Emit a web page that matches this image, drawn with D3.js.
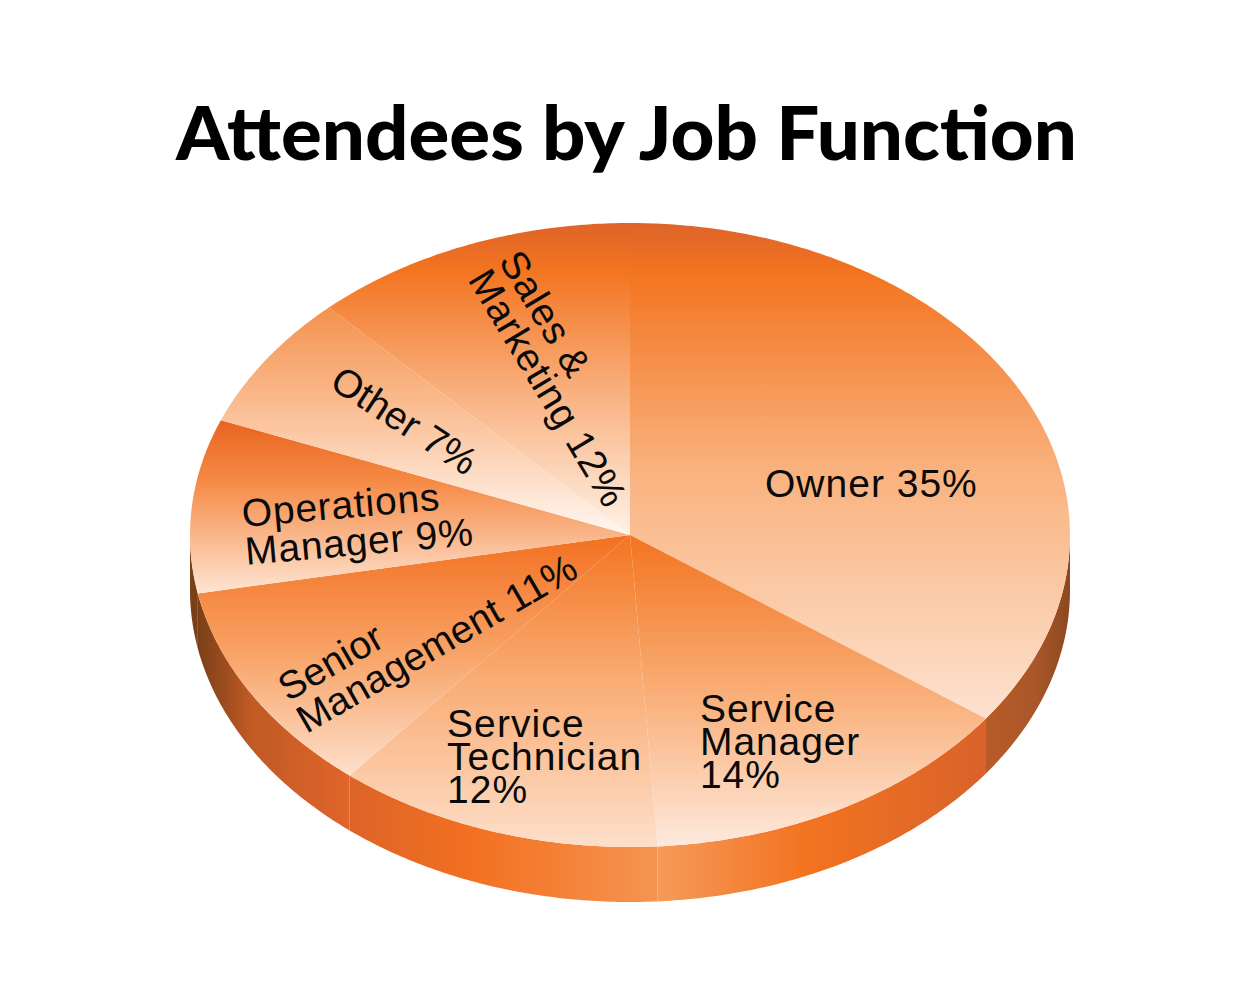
<!DOCTYPE html>
<html>
<head>
<meta charset="utf-8">
<script src="https://cdn.jsdelivr.net/npm/d3@7"></script>
<style>
  html, body { margin: 0; padding: 0; background: #fff; }
  svg { display: block; }
</style>
</head>
<body>
<div id="chart"></div>
<script>
const chartTitle = "Attendees by Job Function";
const categories = ["Owner", "Service Manager", "Service Technician", "Senior Management", "Operations Manager", "Other", "Sales & Marketing"];
const shares = [35, 14, 12, 11, 9, 7, 12];
const labelLines = [
  ["Owner 35%"],
  ["Service", "Manager", "14%"],
  ["Service", "Technician", "12%"],
  ["Senior", "Management 11%"],
  ["Operations", "Manager 9%"],
  ["Other 7%"],
  ["Sales &", "Marketing 12%"]
];

// label anchor [x, y, rotation, line gap, tracking], picked by eye
const labelPlace = [
  [765, 497, 0, 33, 1],
  [700, 722, 0, 33, 0.9],
  [447, 737, 0, 33, 1.1],
  [288, 702, -30, 37, 0.2],
  [243, 527, -5, 38, 0.8],
  [328, 387, 33, 33, 0],
  [498, 261, 59, 36, 0.7]
];

// top face colour ramps, top of slice to bottom of slice
const topRamps = [
  [[0, "#dd642a"], [0.1, "#f37420"], [0.5, "#f9b27e"], [1, "#fde2d0"]],
  [[0, "#f37420"], [0.45, "#f8a76c"], [1, "#fee9dc"]],
  [[0, "#f37420"], [0.45, "#f9ab72"], [1, "#fddfca"]],
  [[0, "#f37021"], [0.5, "#f8a468"], [1, "#fde0cc"]],
  [[0, "#e8641f"], [0.35, "#f58a45"], [1, "#fee5d4"]],
  [[0, "#f4914e"], [0.4, "#fab98b"], [1, "#fff8f2"]],
  [[0, "#de6428"], [0.15, "#f37420"], [0.6, "#f9b98c"], [1, "#fff2e8"]]
];
// rim colours, left to right across the wall
const rimRamps = [
  [[0, "#b85c28"], [0.6, "#a9562a"], [1, "#8c4820"]],
  [[0, "#f59a5a"], [0.45, "#f37420"], [1, "#d8622a"]],
  [[0, "#dd6428"], [0.4, "#f37021"], [1, "#f59550"]],
  [[0, "#7a3f18"], [0.35, "#c05a24"], [1, "#e0652a"]],
  [[0, "#7a3f18"], [1, "#7a3f18"]]
];

const width = 1250;
const height = 1000;
const rimDepth = 55;

const svg = d3.select("#chart").append("svg")
  .attr("width", width)
  .attr("height", height)
  .attr("viewBox", [0, 0, width, height]);

const defs = svg.append("defs");

const xScale = d3.scaleLinear().domain([-1, 1]).range([190, 1070]);
const yScale = d3.scaleLinear().domain([-1, 1]).range([223, 847]);

const arcs = d3.pie().sort(null).value(d => d)(shares);

function ringPoints(a0, a1) {
  const pts = d3.range(a0, a1, 0.01);
  pts.push(a1);
  return pts;
}

function addGradient(id, stops, x1, y1, x2, y2) {
  const g = defs.append("linearGradient")
    .attr("id", id)
    .attr("gradientUnits", "userSpaceOnUse")
    .attr("x1", x1).attr("y1", y1)
    .attr("x2", x2).attr("y2", y2);
  stops.forEach(s => g.append("stop").attr("offset", s[0]).attr("stop-color", s[1]));
}

// rim, only the front half of the ellipse shows
const rimArea = d3.area()
  .x(a => xScale(Math.sin(a)))
  .y0(a => yScale(-Math.cos(a)))
  .y1(a => yScale(-Math.cos(a)) + rimDepth);

const rimSlices = arcs
  .map(d => ({a0: Math.max(d.startAngle, Math.PI / 2), a1: Math.min(d.endAngle, 3 * Math.PI / 2)}))
  .filter(d => d.a1 > d.a0);

svg.append("g").selectAll("path")
  .data(rimSlices)
  .join("path")
  .attr("d", d => rimArea(ringPoints(d.a0, d.a1)))
  .attr("fill", (d, i) => {
    const id = `rim${i}`;
    const xs = ringPoints(d.a0, d.a1).map(a => xScale(Math.sin(a)));
    addGradient(id, rimRamps[i], d3.min(xs), 0, d3.max(xs), 0);
    return `url(#${id})`;
  });

// top face
const faceLine = d3.line()
  .x(d => xScale(d[0]))
  .y(d => yScale(d[1]));

svg.append("g").selectAll("path")
  .data(arcs)
  .join("path")
  .attr("d", d => {
    const pts = ringPoints(d.startAngle, d.endAngle).map(a => [Math.sin(a), -Math.cos(a)]);
    return faceLine([[0, 0], ...pts]) + "Z";
  })
  .attr("fill", (d, i) => {
    const ys = ringPoints(d.startAngle, d.endAngle).map(a => yScale(-Math.cos(a)));
    ys.push(yScale(0));
    addGradient(`face${i}`, topRamps[i], 0, d3.min(ys), 0, d3.max(ys));
    return `url(#face${i})`;
  });

// labels
const labels = svg.append("g")
  .attr("font-family", "'Liberation Sans', Arial, sans-serif")
  .attr("font-size", 39)
  .attr("fill", "#0a0a0a");

labels.selectAll("text")
  .data(categories)
  .join("text")
  .attr("transform", (d, i) => `translate(${labelPlace[i][0]},${labelPlace[i][1]}) rotate(${labelPlace[i][2]})`)
  .attr("letter-spacing", (d, i) => labelPlace[i][4])
  .each(function (d, i) {
    d3.select(this).selectAll("tspan")
      .data(labelLines[i])
      .join("tspan")
      .attr("x", 0)
      .attr("y", (l, j) => j * labelPlace[i][3])
      .text(l => l);
  });

svg.append("text")
  .attr("x", 626.5)
  .attr("y", 160)
  .attr("text-anchor", "middle")
  .attr("font-family", "Lato, 'Open Sans', sans-serif")
  .attr("font-weight", 900)
  .attr("font-size", 74)
  .attr("textLength", 901)
  .attr("lengthAdjust", "spacingAndGlyphs")
  .attr("fill", "#000")
  .text(chartTitle);
</script>
</body>
</html>
